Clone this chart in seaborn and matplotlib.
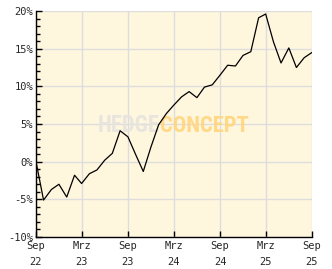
import matplotlib
matplotlib.use("Agg")
import matplotlib.pyplot as plt
import seaborn as sns
import pandas as pd
import numpy as np
from matplotlib.ticker import MultipleLocator, FuncFormatter
from matplotlib import font_manager

months = pd.date_range("2022-09-01", "2025-09-01", freq="MS")
perf = [0.0, -5.1, -3.7, -3.0, -4.7, -1.8, -2.9, -1.6, -1.1, 0.2, 1.1, 4.1,
        3.3, 1.0, -1.3, 1.9, 4.9, 6.4, 7.5, 8.6, 9.3, 8.5, 9.9, 10.2,
        11.5, 12.8, 12.7, 14.1, 14.6, 19.1, 19.6, 15.9, 13.1, 15.1, 12.5, 13.8,
        14.5]
tick_dates = ["2022-09-01", "2023-03-01", "2023-09-01", "2024-03-01",
              "2024-09-01", "2025-03-01", "2025-09-01"]
tick_labels = ["Sep\n22", "Mrz\n23", "Sep\n23", "Mrz\n24", "Sep\n24", "Mrz\n25", "Sep\n25"]

df = pd.DataFrame({"date": months, "perf": perf})

sns.set_theme(style="white")
plt.rcParams["font.family"] = ["DejaVu Sans Mono"]

names = {f.name for f in font_manager.fontManager.ttflist}
wm_family = "DejaVu Sans"
for cand in ["Liberation Sans Narrow", "Roboto Condensed", "Open Sans Condensed"]:
    if cand in names:
        wm_family = cand
        break

fig = plt.figure(figsize=(3.32, 2.69), dpi=100)
ax = fig.add_axes([36/332, 32/269, 276/332, 226/269])
ax.set_facecolor("#FFF6DE")

sns.lineplot(data=df, x="date", y="perf", ax=ax, color="black", linewidth=0.9, zorder=3)

ax.set_xlim(pd.Timestamp("2022-09-01"), pd.Timestamp("2025-09-01"))
ax.set_ylim(-10, 20)
ax.set_xticks(pd.to_datetime(tick_dates))
ax.set_xticklabels(tick_labels)
ax.yaxis.set_major_locator(MultipleLocator(5))
ax.yaxis.set_minor_locator(MultipleLocator(1))
ax.yaxis.set_major_formatter(FuncFormatter(lambda v, p: f"{int(v)}%"))
ax.grid(True, which="major", color="#DDDDDD", linewidth=1)
ax.set_axisbelow(True)
ax.set_xlabel("")
ax.set_ylabel("")

for s in ["top", "right"]:
    ax.spines[s].set_visible(False)
for s in ["left", "bottom"]:
    ax.spines[s].set_color("black")
    ax.spines[s].set_linewidth(1)

ax.tick_params(axis="y", which="major", direction="in", length=4, width=1, color="black",
               labelsize=7.5, pad=2, left=True)
ax.tick_params(axis="y", which="minor", direction="in", length=3, width=1, color="black", left=True)
ax.tick_params(axis="x", which="major", direction="in", length=4, width=1, color="black",
               labelsize=7.5, pad=3, bottom=True)
for lbl in ax.get_xticklabels():
    lbl.set_linespacing(1.7)

# watermark
wm_y = 1 - (123 - 11) / 226
wm_x = (160 - 36) / 276
t1 = ax.text(wm_x, wm_y, "HEDGE", transform=ax.transAxes, ha="right", va="center_baseline",
             fontsize=16, fontweight="bold", color="#E6E4DE", alpha=0.9,
             family=[wm_family], zorder=2)
t2 = ax.text(wm_x, wm_y, "CONCEPT", transform=ax.transAxes, ha="left", va="center_baseline",
             fontsize=16, fontweight="bold", color="#FFD57F", alpha=0.9,
             family=[wm_family], zorder=2)
fig.canvas.draw()
r = fig.canvas.get_renderer()
w1 = t1.get_window_extent(r).width
w2 = t2.get_window_extent(r).width
s1 = 16 * 62 / w1
s2 = 16 * 89 / w2
t1.set_fontsize(s1)
t2.set_fontsize(s2)

fig.savefig("out.png", dpi=100, facecolor="white")
